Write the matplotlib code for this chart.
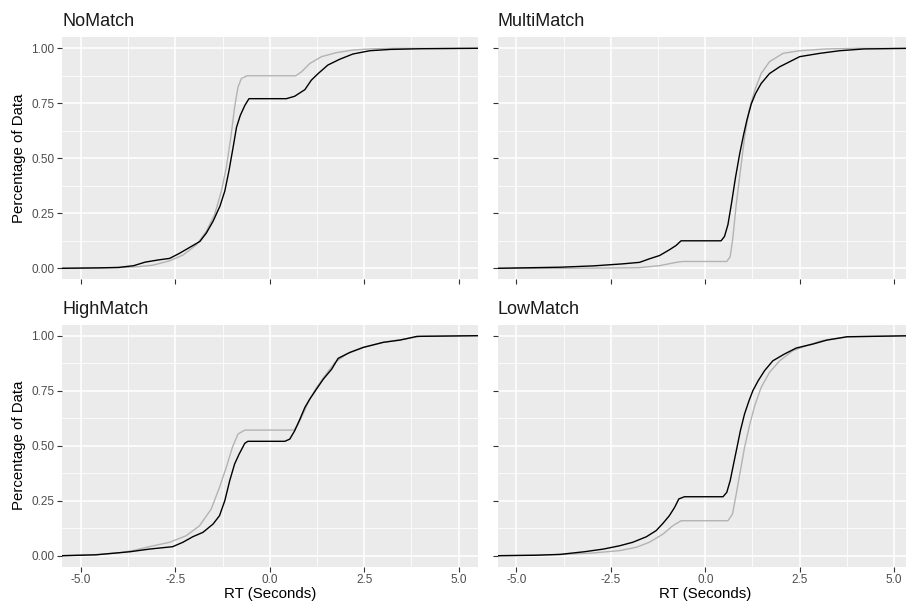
import matplotlib
matplotlib.use("Agg")
import matplotlib.pyplot as plt
from matplotlib.ticker import FixedLocator

plt.rcParams['font.family'] = ['Liberation Sans', 'DejaVu Sans']
plt.rcParams['axes.unicode_minus'] = False

# values (RT in seconds, cumulative proportion)
panel_names = ["NoMatch", "MultiMatch", "HighMatch", "LowMatch"]

# black = observed data, grey = model
nomatch_obs_x = [-5.5, -4.5, -4.0, -3.6, -3.3, -2.95, -2.65, -2.38, -2.12, -1.85, -1.68, -1.5,
                 -1.32, -1.19, -1.08, -0.97, -0.88, -0.78, -0.66, -0.55, 0.44, 0.66, 0.93, 1.1,
                 1.28, 1.54, 1.85, 2.2, 2.65, 3.2, 4.0, 5.5]
nomatch_obs_y = [0.0, 0.002, 0.004, 0.012, 0.028, 0.038, 0.045, 0.069, 0.095, 0.122, 0.16, 0.214,
                 0.282, 0.351, 0.443, 0.55, 0.641, 0.695, 0.74, 0.771, 0.771, 0.782, 0.812, 0.855,
                 0.885, 0.924, 0.95, 0.974, 0.989, 0.995, 0.998, 1.0]
nomatch_pred_x = [-5.5, -4.0, -3.5, -3.1, -2.65, -2.29, -1.94, -1.68, -1.46, -1.28, -1.15, -1.03,
                  -0.93, -0.84, -0.75, -0.6, 0.69, 0.84, 1.06, 1.37, 1.76, 2.2, 2.65, 3.3, 5.5]
nomatch_pred_y = [0.0, 0.003, 0.007, 0.014, 0.034, 0.061, 0.107, 0.168, 0.244, 0.351, 0.458, 0.595,
                  0.733, 0.824, 0.863, 0.875, 0.875, 0.893, 0.931, 0.962, 0.98, 0.992, 0.997, 1.0,
                  1.0]

multi_obs_x = [-5.5, -3.84, -2.96, -2.2, -1.74, -1.48, -1.21, -0.95, -0.77, -0.64, 0.42, 0.51,
               0.6, 0.69, 0.8, 0.91, 1.02, 1.1, 1.22, 1.33, 1.48, 1.7, 1.97, 2.5, 3.03, 3.56,
               4.2, 5.5]
multi_obs_y = [0.0, 0.005, 0.011, 0.02, 0.027, 0.043, 0.058, 0.084, 0.104, 0.125, 0.125, 0.145,
               0.198, 0.29, 0.412, 0.519, 0.611, 0.672, 0.748, 0.794, 0.84, 0.885, 0.916, 0.962,
               0.977, 0.989, 0.997, 1.0]
multi_pred_x = [-5.5, -3.84, -2.08, -1.74, -1.21, -0.77, -0.59, 0.57, 0.66, 0.73, 0.82, 0.93,
                1.04, 1.16, 1.31, 1.48, 1.7, 2.06, 2.5, 3.2, 4.0, 5.5]
multi_pred_y = [0.0, 0.0, 0.002, 0.003, 0.012, 0.027, 0.031, 0.031, 0.053, 0.137, 0.29, 0.443,
                0.595, 0.718, 0.809, 0.885, 0.939, 0.977, 0.989, 0.997, 1.0, 1.0]

high_obs_x = [-5.5, -4.6, -4.15, -3.7, -3.19, -2.57, -2.3, -2.04, -1.77, -1.5, -1.33, -1.19,
              -1.06, -0.93, -0.81, -0.66, -0.58, 0.4, 0.53, 0.66, 0.8, 0.93, 1.06, 1.24, 1.42,
              1.64, 1.81, 2.12, 2.48, 3.01, 3.45, 3.9, 5.5]
high_obs_y = [0.0, 0.004, 0.011, 0.018, 0.03, 0.041, 0.061, 0.086, 0.106, 0.144, 0.182, 0.25,
              0.341, 0.417, 0.462, 0.511, 0.52, 0.52, 0.53, 0.568, 0.621, 0.674, 0.712, 0.758,
              0.803, 0.848, 0.897, 0.924, 0.947, 0.97, 0.98, 0.997, 1.0]
high_pred_x = [-5.5, -4.6, -4.0, -3.6, -3.19, -2.65, -2.21, -1.86, -1.55, -1.33, -1.15, -0.99,
               -0.84, -0.66, 0.64, 0.75, 0.88, 1.06, 1.24, 1.46, 1.73, 2.04, 2.48, 3.01, 3.45,
               4.0, 5.5]
high_pred_y = [0.0, 0.005, 0.013, 0.024, 0.041, 0.061, 0.091, 0.136, 0.212, 0.311, 0.402, 0.492,
               0.553, 0.571, 0.571, 0.598, 0.644, 0.712, 0.765, 0.818, 0.879, 0.917, 0.947, 0.97,
               0.982, 0.997, 1.0]

low_obs_x = [-5.5, -4.5, -3.84, -3.2, -2.7, -2.27, -1.92, -1.56, -1.3, -1.12, -0.95, -0.81, -0.7,
             -0.55, 0.47, 0.57, 0.66, 0.75, 0.84, 0.93, 1.04, 1.16, 1.26, 1.4, 1.57, 1.79, 2.1,
             2.41, 2.85, 3.22, 3.75, 5.5]
low_obs_y = [0.0, 0.002, 0.006, 0.018, 0.03, 0.045, 0.061, 0.086, 0.114, 0.147, 0.182, 0.22,
             0.258, 0.268, 0.268, 0.288, 0.341, 0.417, 0.492, 0.568, 0.644, 0.705, 0.75, 0.795,
             0.841, 0.886, 0.917, 0.944, 0.962, 0.98, 0.995, 1.0]
low_pred_x = [-5.5, -3.86, -3.0, -2.27, -1.83, -1.48, -1.12, -0.86, -0.64, 0.6, 0.72, 0.82, 0.93,
              1.04, 1.18, 1.31, 1.48, 1.7, 1.97, 2.32, 2.68, 3.1, 3.8, 5.5]
low_pred_y = [0.0, 0.005, 0.012, 0.023, 0.038, 0.061, 0.098, 0.136, 0.159, 0.159, 0.189, 0.28,
              0.386, 0.492, 0.598, 0.682, 0.765, 0.833, 0.886, 0.932, 0.955, 0.978, 0.996, 1.0]

obs_x = [nomatch_obs_x, multi_obs_x, high_obs_x, low_obs_x]
obs_y = [nomatch_obs_y, multi_obs_y, high_obs_y, low_obs_y]
pred_x = [nomatch_pred_x, multi_pred_x, high_pred_x, low_pred_x]
pred_y = [nomatch_pred_y, multi_pred_y, high_pred_y, low_pred_y]

x_ticks = [-5.0, -2.5, 0.0, 2.5, 5.0]
x_minor = [-3.75, -1.25, 1.25, 3.75]
y_ticks = [0.0, 0.25, 0.5, 0.75, 1.0]
y_minor = [0.125, 0.375, 0.625, 0.875]

W, H = 906, 603
fig = plt.figure(figsize=(W / 100, H / 100), dpi=100)

# panel boxes in pixels: left, top, width, height
boxes = [(62, 37.3, 415.5, 242), (497.5, 37.3, 415.5, 242),
         (62, 324.7, 415.5, 242), (497.5, 324.7, 415.5, 242)]

for i, name in enumerate(panel_names):
    l, t, w, h = boxes[i]
    ax = fig.add_axes([l / W, 1 - (t + h) / H, w / W, h / H])
    ax.set_facecolor("#EBEBEB")
    for s in ax.spines.values():
        s.set_visible(False)
    ax.set_xlim(-5.5, 5.5)
    ax.set_ylim(-0.05, 1.05)
    ax.xaxis.set_major_locator(FixedLocator(x_ticks))
    ax.xaxis.set_minor_locator(FixedLocator(x_minor))
    ax.yaxis.set_major_locator(FixedLocator(y_ticks))
    ax.yaxis.set_minor_locator(FixedLocator(y_minor))
    ax.grid(which="major", color="white", lw=1.1)
    ax.grid(which="minor", color="white", lw=0.55)
    ax.set_axisbelow(True)
    ax.tick_params(which="major", length=3.5, width=0.8, color="#333333",
                   labelsize=8.5, labelcolor="#4D4D4D", pad=2)
    ax.tick_params(which="minor", length=0)

    ax.plot(pred_x[i], pred_y[i], color="#B3B3B3", lw=1.0, zorder=3)
    ax.plot(obs_x[i], obs_y[i], color="black", lw=1.0, zorder=4)

    if i % 2 == 0:
        ax.set_yticklabels(["0.00", "0.25", "0.50", "0.75", "1.00"])
        ax.set_ylabel("Percentage of Data", fontsize=10.8, labelpad=4)
    else:
        ax.set_yticklabels([])
    if i >= 2:
        ax.set_xticklabels(["-5.0", "-2.5", "0.0", "2.5", "5.0"])
        ax.set_xlabel("RT (Seconds)", fontsize=10.8, labelpad=0.5)
    else:
        ax.set_xticklabels([])
    ax.set_title(name, loc="left", fontsize=13, pad=8, color="#1A1A1A")

fig.savefig("out.png", dpi=100)
